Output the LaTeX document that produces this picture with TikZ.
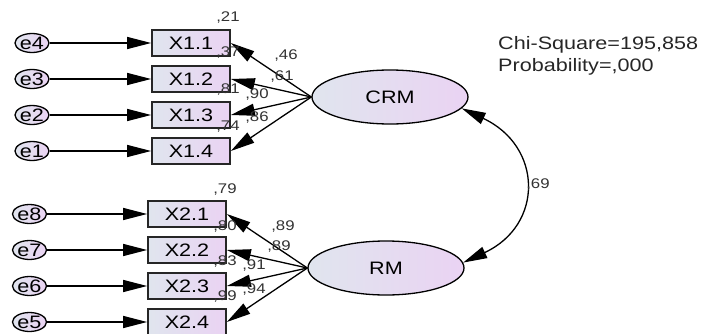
\documentclass[tikz,border=0pt]{standalone}
\usepackage{fontspec}
\setmainfont{Liberation Sans}[FakeStretch=1.2]
\usepackage{tikz}
\usetikzlibrary{shapes.geometric, arrows.meta}

\definecolor{fillleft}{RGB}{224,229,238}
\definecolor{fillright}{RGB}{234,211,243}

\begin{document}
\begin{tikzpicture}[
    x=1pt, y=1pt,
    item/.style={draw=black!85, line width=1.7pt, minimum width=78pt, minimum height=26pt, inner sep=0pt, left color=fillleft, right color=fillright, font=\fontsize{18}{22}\selectfont},
    latent/.style={draw, ellipse, line width=1.3pt, minimum width=156pt, minimum height=54pt, inner sep=0pt, left color=fillleft, right color=fillright, font=\fontsize{18}{22}\selectfont},
    err/.style={draw, ellipse, line width=1.3pt, minimum width=34pt, minimum height=19pt, inner sep=0pt, left color=fillleft, right color=fillright, font=\fontsize{18}{22}\selectfont},
    coef/.style={inner sep=0pt, text=black!80, font=\fontsize{14}{16}\selectfont},
    arrow/.style={-{Triangle[length=24pt, width=12pt]}, line width=1.3pt}
]
    \useasboundingbox (0,0) rectangle (721,333);

    \node[err] at (32,290) (e4) {e4};
    \node[err] at (32,254) (e3) {e3};
    \node[err] at (32,218) (e2) {e2};
    \node[err] at (32,182) (e1) {e1};
    \node[item] at (191,290) (x11) {X1.1};
    \node[item] at (191,254) (x12) {X1.2};
    \node[item] at (191,218) (x13) {X1.3};
    \node[item] at (191,182) (x14) {X1.4};
    \node[latent] at (390,236) (crm) {CRM};

    \node[err] at (29.5,119) (e8) {e8};
    \node[err] at (29.5,83) (e7) {e7};
    \node[err] at (29.5,47) (e6) {e6};
    \node[err] at (29.5,11) (e5) {e5};
    \node[item] at (187,119) (x21) {X2.1};
    \node[item] at (187,83) (x22) {X2.2};
    \node[item] at (187,47) (x23) {X2.3};
    \node[item] at (187,11) (x24) {X2.4};
    \node[latent] at (386,65) (rm) {RM};

    \draw[arrow] (e4) -- (x11);
    \draw[arrow] (e3) -- (x12);
    \draw[arrow] (e2) -- (x13);
    \draw[arrow] (e1) -- (x14);
    \draw[arrow] (crm.west) -- (x11.east);
    \draw[arrow] (crm.west) -- (x12.east);
    \draw[arrow] (crm.west) -- (x13.east);
    \draw[arrow] (crm.west) -- (x14.east);

    \draw[arrow] (e8) -- (x21);
    \draw[arrow] (e7) -- (x22);
    \draw[arrow] (e6) -- (x23);
    \draw[arrow] (e5) -- (x24);
    \draw[arrow] (rm.west) -- (x21.east);
    \draw[arrow] (rm.west) -- (x22.east);
    \draw[arrow] (rm.west) -- (x23.east);
    \draw[arrow] (rm.west) -- (x24.east);

    \draw[arrow, {Triangle[length=24pt, width=12pt]}-{Triangle[length=24pt, width=12pt]}] (crm.-9) to[out=-25, in=25, looseness=1.48] (rm.4);

    \node[coef] at (228,315) (r11) {,21};
    \node[coef] at (228,280) (r12) {,37};
    \node[coef] at (228,243) (r13) {,81};
    \node[coef] at (228,206) (r14) {,74};
    \node[coef] at (286,277) (l11) {,46};
    \node[coef] at (282,256) (l12) {,61};
    \node[coef] at (257,238) (l13) {,90};
    \node[coef] at (257,215) (l14) {,86};

    \node[coef] at (225,143) (r21) {,79};
    \node[coef] at (225,106) (r22) {,80};
    \node[coef] at (225,71) (r23) {,83};
    \node[coef] at (225,36) (r24) {,99};
    \node[coef] at (283,106) (l21) {,89};
    \node[coef] at (279,86) (l22) {,89};
    \node[coef] at (254,67) (l23) {,91};
    \node[coef] at (254,43) (l24) {,94};

    \node[coef] at (538,148) (cov) {,69};

    \node[anchor=north west, align=left, inner sep=0pt, text=black!85, font=\fontsize{18}{22}\selectfont] at (498,297) (fit) {Chi-Square=195,858\\Probability=,000};
\end{tikzpicture}
\end{document}
